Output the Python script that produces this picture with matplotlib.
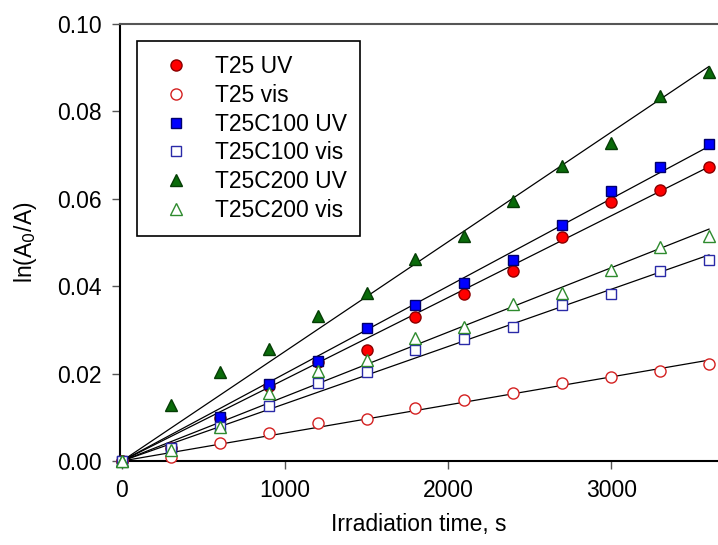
import numpy as np
import matplotlib
matplotlib.use("Agg")
import matplotlib.pyplot as plt

plt.rcParams['font.family'] = ['Liberation Sans', 'DejaVu Sans']

# irradiation time (s)
t = [0, 300, 600, 900, 1200, 1500, 1800, 2100, 2400, 2700, 3000, 3300, 3600]

# ln(A0/A)
t25_uv = [0, 0.0030, 0.0098, 0.0172, 0.0226, 0.0254, 0.0330, 0.0382, 0.0435, 0.0513, 0.0592, 0.0619, 0.0673]
t25_vis = [0, 0.0009, 0.0041, 0.0064, 0.0087, 0.0096, 0.0121, 0.0140, 0.0155, 0.0179, 0.0192, 0.0206, 0.0221]
t25c100_uv = [0, 0.0030, 0.0101, 0.0176, 0.0229, 0.0304, 0.0357, 0.0408, 0.0460, 0.0539, 0.0618, 0.0673, 0.0725]
t25c100_vis = [0, 0.0030, 0.0078, 0.0125, 0.0178, 0.0203, 0.0253, 0.0280, 0.0306, 0.0356, 0.0382, 0.0435, 0.0460]
t25c200_uv = [0, 0.0128, 0.0204, 0.0256, 0.0332, 0.0384, 0.0462, 0.0516, 0.0595, 0.0674, 0.0728, 0.0835, 0.0890]
t25c200_vis = [0, 0.0025, 0.0078, 0.0155, 0.0206, 0.0231, 0.0282, 0.0307, 0.0359, 0.0385, 0.0436, 0.0490, 0.0516]

series = [
    ("T25 UV", t25_uv, dict(marker='o', ms=8, mfc='#ff0000', mec='#8b0000')),
    ("T25 vis", t25_vis, dict(marker='o', ms=8, mfc='white', mec='#d42020')),
    ("T25C100 UV", t25c100_uv, dict(marker='s', ms=7.2, mfc='#0000ff', mec='#00006e')),
    ("T25C100 vis", t25c100_vis, dict(marker='s', ms=7.2, mfc='white', mec='#2a2aa8')),
    ("T25C200 UV", t25c200_uv, dict(marker='^', ms=8, mfc='#0a6b0a', mec='#053d05')),
    ("T25C200 vis", t25c200_vis, dict(marker='^', ms=8, mfc='white', mec='#2e8b2e')),
]

fs = 16.5

fig = plt.figure(figsize=(7.18, 5.45), dpi=100)
ax = fig.add_axes([120 / 718, 84 / 545, 598 / 718, 437 / 545])

x = np.array(t, dtype=float)
xs = np.linspace(0, 3600, 50)
for label, y, style in series:
    y = np.array(y)
    k = np.sum(x * y) / np.sum(x * x)  # linear fit through origin
    ax.plot(xs, k * xs, color='black', lw=0.9, zorder=2)

for label, y, style in series:
    ax.plot(t, y, ls='none', mew=1.0, label=label, clip_on=False, zorder=3, **style)

ax.set_xlim(-12, 3655)
ax.set_ylim(0, 0.10)
ax.set_xticks([0, 1000, 2000, 3000])
ax.set_yticks(np.arange(0, 0.101, 0.02))
ax.yaxis.set_major_formatter(matplotlib.ticker.FormatStrFormatter('%.2f'))
ax.tick_params(direction='out', length=6, width=1, labelsize=fs, pad=7, color='#555555')

ax.spines['right'].set_visible(False)
ax.spines['left'].set_linewidth(1.5)
ax.spines['bottom'].set_linewidth(1.5)
ax.spines['top'].set_linewidth(1.5)
ax.spines['top'].set_color('#555555')

ax.set_xlabel('Irradiation time, s', fontsize=fs, labelpad=8)
ax.set_ylabel('ln(A$_0$/A)', fontsize=fs, labelpad=13)

leg = ax.legend(loc='upper left', bbox_to_anchor=(0.028, 0.96), fontsize=fs,
                frameon=True, fancybox=False, edgecolor='black', framealpha=1,
                labelspacing=0.25, handletextpad=0.6, borderpad=0.6,
                handlelength=2.2, borderaxespad=0)
leg.get_frame().set_linewidth(1.2)

fig.savefig('out.png', dpi=100)
